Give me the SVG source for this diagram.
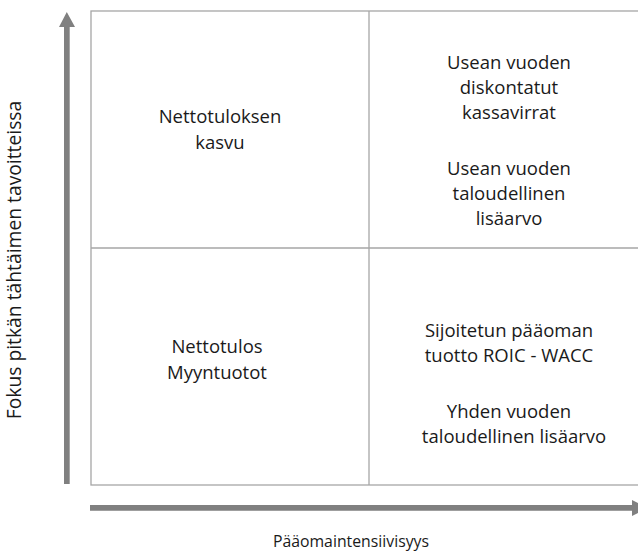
<svg xmlns="http://www.w3.org/2000/svg" width="638" height="553" viewBox="0 0 638 553">
  <style>
    .grid { fill: none; stroke: #a6a6a6; stroke-width: 1.3; }
    .axis { fill: #808080; stroke: none; }
    text { font-family: "Open Sans", "Liberation Sans", sans-serif; font-size: 18.5px; fill: #1a1a1a; text-anchor: middle; }
    .xlab { font-size: 15.8px; }
    .ylab { font-size: 19.3px; }
  </style>

  <rect width="638" height="553" fill="#ffffff"/>

  <!-- 2x2 matrix grid -->
  <g id="matrix">
    <rect class="grid" x="91" y="11" width="560" height="474"/>
    <line class="grid" x1="369" y1="11" x2="369" y2="485"/>
    <line class="grid" x1="91" y1="248" x2="651" y2="248"/>
  </g>

  <!-- axes -->
  <g id="connectors">
    <path class="axis" d="M64 484 V27 H59 L66.8 12 L75 27 H69.7 V484 Z"/>
    <path class="axis" d="M90 505 H632 V500 L648 508 L632 516 V510.7 H90 Z"/>
  </g>

  <g id="q-top-left">
    <text x="220" y="123">Nettotuloksen</text>
    <text x="220" y="149">kasvu</text>
  </g>

  <g id="q-top-right">
    <text x="509" y="69">Usean vuoden</text>
    <text x="509" y="94">diskontatut</text>
    <text x="509" y="119">kassavirrat</text>
    <text x="509" y="175">Usean vuoden</text>
    <text x="509" y="200">taloudellinen</text>
    <text x="509" y="225">lisäarvo</text>
  </g>

  <g id="q-bottom-left">
    <text x="217" y="353">Nettotulos</text>
    <text x="217" y="379">Myyntuotot</text>
  </g>

  <g id="q-bottom-right">
    <text x="509" y="337">Sijoitetun pääoman</text>
    <text x="509" y="362">tuotto ROIC - WACC</text>
    <text x="509" y="418">Yhden vuoden</text>
    <text x="514" y="443">taloudellinen lisäarvo</text>
  </g>

  <g id="x-label">
    <text class="xlab" x="351" y="547">Pääomaintensiivisyys</text>
  </g>
  <g id="y-label">
    <text class="ylab" transform="translate(21 260) rotate(-90)">Fokus pitkän tähtäimen tavoitteissa</text>
  </g>
</svg>
